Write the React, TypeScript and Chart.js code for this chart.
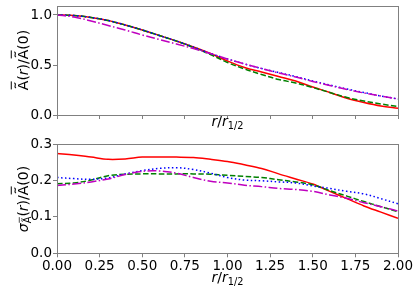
import React, { useEffect, useRef } from 'react';
import { Chart, registerables } from 'chart.js';
Chart.register(...registerables);

// ---- data ----
const radius = [0, 0.1, 0.2, 0.3, 0.4, 0.5, 0.6, 0.7, 0.8, 0.9, 1.0, 1.1, 1.2, 1.3, 1.4, 1.5, 1.6, 1.7, 1.8, 1.9, 2.0];

const topRed = [1.0, 0.995, 0.975, 0.945, 0.9, 0.85, 0.795, 0.74, 0.68, 0.615, 0.54, 0.475, 0.43, 0.385, 0.34, 0.28, 0.225, 0.168, 0.125, 0.09, 0.068];
const topGreen = [1.0, 0.995, 0.975, 0.945, 0.9, 0.85, 0.795, 0.74, 0.675, 0.605, 0.525, 0.46, 0.405, 0.355, 0.32, 0.275, 0.225, 0.175, 0.14, 0.11, 0.085];
const topBlue = [1.0, 0.995, 0.975, 0.945, 0.9, 0.85, 0.795, 0.74, 0.68, 0.615, 0.56, 0.51, 0.465, 0.425, 0.385, 0.34, 0.3, 0.26, 0.225, 0.19, 0.16];
const topMagenta = [1.0, 0.98, 0.94, 0.895, 0.85, 0.8, 0.755, 0.71, 0.665, 0.615, 0.56, 0.51, 0.465, 0.42, 0.38, 0.335, 0.295, 0.255, 0.22, 0.19, 0.16];

const botRed = [0.274, 0.27, 0.264, 0.258, 0.259, 0.264, 0.264, 0.264, 0.263, 0.258, 0.252, 0.243, 0.233, 0.218, 0.204, 0.19, 0.17, 0.15, 0.13, 0.113, 0.096];
const botGreen = [0.191, 0.193, 0.201, 0.213, 0.217, 0.218, 0.218, 0.218, 0.218, 0.217, 0.214, 0.211, 0.208, 0.202, 0.196, 0.188, 0.172, 0.157, 0.142, 0.128, 0.114];
const botBlue = [0.208, 0.205, 0.203, 0.207, 0.218, 0.227, 0.233, 0.235, 0.23, 0.22, 0.208, 0.201, 0.199, 0.196, 0.193, 0.185, 0.178, 0.17, 0.163, 0.15, 0.136];
const botMagenta = [0.186, 0.19, 0.196, 0.204, 0.216, 0.225, 0.226, 0.22, 0.208, 0.198, 0.193, 0.187, 0.183, 0.178, 0.175, 0.17, 0.16, 0.151, 0.139, 0.128, 0.116];

const xStep = 0.25;
const topYStep = 0.5;
const botYStep = 0.1;

// ---- styles ----
const GRAY = '#808080';
const FONT = '"DejaVu Sans", sans-serif';
const TICK_FONT = { family: FONT, size: 13.5 };

type Seg = { t: string; size: number; italic?: boolean; dy?: number; accent?: boolean };

function drawRich(ctx: CanvasRenderingContext2D, segs: Seg[], cx: number, cy: number, rotate: boolean) {
  ctx.save();
  ctx.translate(cx, cy);
  if (rotate) ctx.rotate(-Math.PI / 2);
  const fontOf = (s: Seg) => `${s.italic ? 'italic ' : ''}${s.size}px ${FONT}`;
  let total = 0;
  const widths = segs.map((s) => {
    ctx.font = fontOf(s);
    const w = ctx.measureText(s.t).width;
    total += w;
    return w;
  });
  let x = -total / 2;
  ctx.fillStyle = '#000';
  ctx.strokeStyle = '#000';
  ctx.textAlign = 'left';
  ctx.textBaseline = 'alphabetic';
  segs.forEach((s, i) => {
    ctx.font = fontOf(s);
    const y = s.dy || 0;
    ctx.fillText(s.t, x, y);
    if (s.accent) {
      const w = widths[i];
      const k = s.size / 14;
      const cap = s.size * 0.73;
      const yt = y - cap - 2.6 * k;
      const x0 = x + w * 0.22;
      const ww = w * 0.56;
      ctx.lineWidth = 1.1 * k;
      ctx.beginPath();
      ctx.moveTo(x0, yt + 0.8 * k);
      ctx.bezierCurveTo(x0 + ww * 0.35, yt - 2.4 * k, x0 + ww * 0.65, yt + 2.4 * k, x0 + ww, yt - 0.8 * k);
      ctx.stroke();
      ctx.lineWidth = 1.0 * k;
      const yo = y - cap - 6.5 * k;
      ctx.beginPath();
      ctx.moveTo(x + w * 0.08, yo);
      ctx.lineTo(x + w * 0.92, yo);
      ctx.stroke();
    }
    x += widths[i];
  });
  ctx.restore();
}

const xTitle: Seg[] = [
  { t: 'r', size: 14, italic: true },
  { t: '/', size: 14 },
  { t: 'r', size: 14, italic: true },
  { t: '1/2', size: 9.8, dy: 3 },
];

const topYTitle: Seg[] = [
  { t: 'A', size: 14, accent: true },
  { t: '(', size: 14 },
  { t: 'r', size: 14, italic: true },
  { t: ')/', size: 14 },
  { t: 'A', size: 14, accent: true },
  { t: '(0)', size: 14 },
];

const botYTitle: Seg[] = [
  { t: 'σ', size: 14, italic: true },
  { t: 'A', size: 9.8, dy: 3, accent: true },
  { t: '(', size: 14 },
  { t: 'r', size: 14, italic: true },
  { t: ')/', size: 14 },
  { t: 'A', size: 14, accent: true },
  { t: '(0)', size: 14 },
];

function makeDatasets(red: number[], green: number[], blue: number[], magenta: number[]) {
  const pts = (arr: number[]) => radius.map((x, i) => ({ x, y: arr[i] }));
  const base = { pointRadius: 0, borderWidth: 1.5, tension: 0.35, fill: false };
  return [
    { ...base, label: 'm', data: pts(magenta), borderColor: '#bf00bf', borderDash: [9, 2.4, 1.5, 2.4] },
    { ...base, label: 'b', data: pts(blue), borderColor: '#0000ff', borderDash: [1.5, 2.5] },
    { ...base, label: 'g', data: pts(green), borderColor: '#008000', borderDash: [5.5, 2.4] },
    { ...base, label: 'r', data: pts(red), borderColor: '#ff0000' },
  ];
}

function makeChart(
  canvas: HTMLCanvasElement,
  datasets: any[],
  yMax: number,
  yStep: number,
  showXLabels: boolean,
  padTop: number,
  xHeight: number,
  yTitle: Seg[],
  yTitleCY: number,
  xTitleBaseline: number
) {
  const grid = { drawOnChartArea: false, drawTicks: true, tickLength: 4, color: GRAY, lineWidth: 1 };
  const plugin = {
    id: 'frameTitles',
    afterDraw(chart: any) {
      const ctx = chart.ctx as CanvasRenderingContext2D;
      const a = chart.chartArea;
      ctx.save();
      ctx.strokeStyle = GRAY;
      ctx.lineWidth = 1;
      ctx.strokeRect(Math.round(a.left) + 0.5, Math.round(a.top) + 0.5, Math.round(a.right - a.left), Math.round(a.bottom - a.top));
      ctx.restore();
      drawRich(ctx, xTitle, (a.left + a.right) / 2, xTitleBaseline, false);
      drawRich(ctx, yTitle, 28, yTitleCY, true);
    },
  };
  return new Chart(canvas, {
    type: 'line',
    data: { datasets },
    options: {
      animation: false,
      responsive: false,
      maintainAspectRatio: false,
      layout: { padding: { top: padTop, right: 17, left: 0, bottom: 0 } },
      plugins: { legend: { display: false }, tooltip: { enabled: false } },
      scales: {
        x: {
          type: 'linear',
          min: 0,
          max: 2,
          afterFit: (s: any) => {
            s.height = xHeight;
            s.paddingLeft = 0;
            s.paddingRight = 0;
          },
          ticks: {
            display: showXLabels,
            stepSize: xStep,
            includeBounds: false,
            maxRotation: 0,
            autoSkip: false,
            padding: 1,
            color: '#000',
            font: TICK_FONT,
            callback: (v: any) => Number(v).toFixed(2),
          },
          grid,
          border: { display: false },
        },
        y: {
          type: 'linear',
          min: 0,
          max: yMax,
          afterFit: (s: any) => {
            s.width = 57;
            s.paddingTop = 0;
            s.paddingBottom = 0;
          },
          ticks: {
            stepSize: yStep,
            includeBounds: false,
            padding: 1,
            color: '#000',
            font: TICK_FONT,
            callback: (v: any) => Number(v).toFixed(1),
          },
          grid,
          border: { display: false },
        },
      },
    },
    plugins: [plugin],
  } as any);
}

export default function App() {
  const topRef = useRef<HTMLCanvasElement>(null);
  const botRef = useRef<HTMLCanvasElement>(null);

  useEffect(() => {
    const c1 = makeChart(
      topRef.current!,
      makeDatasets(topRed, topGreen, topBlue, topMagenta),
      1.093,
      topYStep,
      false,
      5.7,
      20,
      topYTitle,
      60,
      126
    );
    const c2 = makeChart(
      botRef.current!,
      makeDatasets(botRed, botGreen, botBlue, botMagenta),
      0.3,
      botYStep,
      true,
      9,
      40.7,
      botYTitle,
      64,
      147
    );
    return () => {
      c1.destroy();
      c2.destroy();
    };
  }, []);

  return (
    <div style={{ position: 'fixed', left: 0, top: 0, width: 415, height: 294, background: '#fff' }}>
      <canvas ref={topRef} width={415} height={135} style={{ position: 'absolute', left: 0, top: 0, width: 415, height: 135 }} />
      <canvas ref={botRef} width={415} height={159} style={{ position: 'absolute', left: 0, top: 135, width: 415, height: 159 }} />
    </div>
  );
}
